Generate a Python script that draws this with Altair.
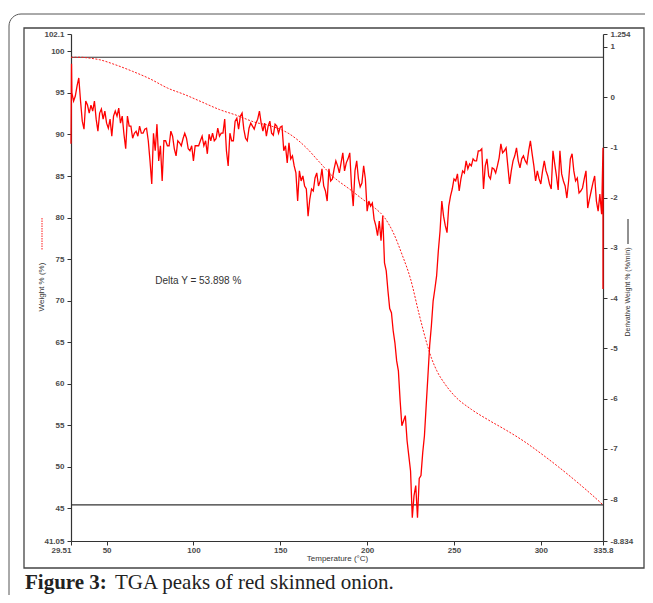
import altair as alt
import pandas as pd

# ---------------- data ----------------
x_ticks = [29.51, 50, 100, 150, 200, 250, 300, 335.8]
w_ticks = [41.05, 45, 50, 55, 60, 65, 70, 75, 80, 85, 90, 95, 100, 102.1]
d_ticks = [-8.834, -8, -7, -6, -5, -4, -3, -2, -1, 0, 1, 1.254]

# Weight % curve (dotted)
weight_T = [29.51, 35, 40, 46, 55, 65, 75, 85, 95, 105, 115, 125, 135, 145,
            155, 165, 172, 180, 190, 200, 205, 210, 215, 220, 225, 230, 235,
            237, 240, 245, 250, 260, 270, 280, 290, 300, 310, 320, 330, 335.8]
weight_pct = [99.3, 99.3, 99.2, 99.0, 98.4, 97.6, 96.7, 95.6, 94.8, 93.9,
              93.0, 92.3, 91.5, 91.0, 90.1, 88.4, 86.8, 85.0, 83.4, 81.8,
              81.05, 80.0, 78.2, 75.6, 72.6, 68.3, 64.4, 63.1, 61.6, 59.9,
              58.6, 56.9, 55.6, 54.4, 53.1, 51.6, 50.0, 48.3, 46.5, 45.4]

# Derivative weight curve (solid), one reading per degree from 30 to 335
deriv_T = [29.51, 29.8] + list(range(30, 336)) + [335.8, 335.8]
deriv_vals = [-0.93, 0.66] + [
    0.08, -0.08, 0.02, 0.22, 0.38, -0.08, -0.48, -0.64, -0.08, -0.16,
    -0.32, -0.16, -0.28, -0.08, -0.44, -0.68, -0.32, -0.24, -0.44, -0.28,
    -0.52, -0.62, -0.44, -0.78, -0.38, -0.28, -0.38, -0.22, -0.52, -0.38,
    -0.74, -1.03, -0.38, -0.58, -0.58, -0.82, -0.72, -0.68, -0.78, -0.58,
    -0.72, -0.72, -0.64, -0.62, -0.87, -1.27, -1.73, -0.72, -1.07, -0.54,
    -1.27, -0.97, -1.67, -0.87, -0.87, -0.97, -0.97, -0.68, -0.78, -1.03,
    -1.17, -0.87, -0.91, -0.97, -0.83, -0.72, -0.82, -1.03, -1.07, -0.97,
    -1.27, -0.97, -0.97, -0.97, -0.87, -0.78, -0.97, -0.87, -1.13, -0.74,
    -0.87, -0.72, -0.87, -0.83, -0.62, -0.78, -0.72, -0.72, -0.44, -1.07,
    -1.37, -0.72, -0.87, -0.87, -0.48, -0.42, -0.64, -0.38, -0.32, -0.64,
    -0.82, -0.87, -0.62, -0.52, -0.58, -0.64, -0.52, -0.44, -0.28, -0.52,
    -0.68, -0.52, -0.78, -0.58, -0.48, -0.72, -0.76, -0.54, -0.58, -0.72,
    -0.60, -0.58, -1.07, -0.97, -1.31, -0.91, -1.23, -1.17, -1.37, -1.51,
    -2.07, -1.47, -1.67, -1.57, -1.77, -1.83, -2.37, -2.03, -1.83, -1.87,
    -1.61, -1.51, -1.77, -1.67, -1.43, -1.77, -1.87, -2.07, -1.43, -1.67,
    -1.63, -1.43, -1.27, -1.37, -1.51, -1.31, -1.11, -1.47, -1.31, -1.23,
    -1.11, -1.77, -2.17, -1.47, -1.27, -1.63, -1.79, -1.71, -1.37, -1.63,
    -2.27, -2.07, -2.17, -2.11, -2.43, -2.56, -2.76, -2.47, -2.86, -2.37,
    -3.30, -3.46, -3.86, -4.21, -4.29, -4.65, -4.89, -5.25, -5.45, -6.04,
    -6.54, -6.44, -6.34, -6.84, -7.14, -7.44, -8.37, -7.93, -7.73, -8.37,
    -7.59, -7.53, -7.08, -6.74, -6.14, -5.55, -4.95, -4.55, -4.06, -3.82,
    -3.56, -3.06, -2.66, -2.07, -2.37, -2.56, -2.70, -2.17, -1.97, -1.83,
    -1.63, -1.67, -1.53, -1.87, -1.63, -1.47, -1.51, -1.27, -1.43, -1.33,
    -1.37, -1.23, -1.27, -1.27, -1.07, -1.07, -1.03, -1.83, -1.37, -1.23,
    -1.57, -1.63, -1.41, -1.43, -1.51, -1.37, -1.21, -0.93, -1.11, -1.07,
    -1.01, -1.37, -1.73, -1.47, -1.27, -1.17, -1.01, -1.27, -1.41, -1.23,
    -1.17, -1.27, -1.33, -1.07, -0.87, -1.13, -1.37, -1.67, -1.47, -1.63,
    -1.73, -1.47, -1.27, -1.47, -1.57, -1.73, -1.83, -1.07, -1.33, -1.57,
    -1.85, -1.07, -1.53, -1.67, -1.77, -2.01, -1.67, -1.23, -1.13, -1.47,
    -1.67, -1.61, -1.91, -1.87, -1.81, -1.63, -1.47, -2.21, -2.03, -1.87,
    -1.71, -1.57, -2.07, -2.27, -1.93, -2.33,
] + [-1.01, -3.82]

hline_levels = [99.3, 45.4]
delta_label = ["Delta Y = 53.898 %"]
delta_pos_T = [78]
delta_pos_w = [72.3]

# ---------------- tables ----------------
wdf = pd.DataFrame({"T": weight_T, "w": weight_pct})
ddf = pd.DataFrame({"T": deriv_T, "d": deriv_vals, "i": range(len(deriv_vals))})
hdf = pd.DataFrame({"w": hline_levels})
tdf = pd.DataFrame({"T": delta_pos_T, "w": delta_pos_w, "label": delta_label})
one = pd.DataFrame({"k": [0]})

FONT = "Liberation Sans"
W, H = 532, 507

x_scale = alt.Scale(domain=[29.51, 335.8], nice=False, zero=False)
w_scale = alt.Scale(domain=[41.05, 102.1], nice=False, zero=False)
d_scale = alt.Scale(domain=[-8.834, 1.254], nice=False, zero=False)

common_axis = dict(grid=False, labelFont=FONT, labelFontSize=8, labelColor="#4a4a4a",
                   labelFontWeight="bold",
                   domainColor="#333", domainWidth=1.2, tickColor="#333",
                   tickSize=4, labelOverlap=False, labelFlush=False,
                   labelBound=False, labelExpr="'' + datum.value")

x_axis = alt.Axis(values=x_ticks, title="Temperature (°C)", titleFont=FONT,
                  titleFontSize=8, titleFontWeight="normal", titleColor="#333",
                  titlePadding=0, labelPadding=1,
                  labelAlign={"condition": {"test": "datum.value < 30", "value": "right"},
                              "value": "center"},
                  **common_axis)
w_axis = alt.Axis(values=w_ticks, title=None, orient="left", labelPadding=3,
                  **common_axis)
d_axis = alt.Axis(values=d_ticks, title=None, orient="right", labelPadding=3,
                  **common_axis)

X = alt.X("T:Q", scale=x_scale, axis=x_axis)

weight_line = alt.Chart(wdf).mark_line(
    color="#ff1a1a", strokeWidth=1, strokeDash=[2, 1.5], interpolate="monotone"
).encode(x=X, y=alt.Y("w:Q", scale=w_scale, axis=w_axis))

hlines = alt.Chart(hdf).mark_rule(color="#333", strokeWidth=1.2).encode(
    y=alt.Y("w:Q", scale=w_scale, axis=w_axis), x=alt.value(0), x2=alt.value(W))

delta_text = alt.Chart(tdf).mark_text(
    font=FONT, fontSize=10, color="#333", align="left", baseline="middle"
).encode(x=X, y=alt.Y("w:Q", scale=w_scale, axis=w_axis), text="label:N")

# decorations: frames, axis titles, caption
inner_frame = alt.Chart(one).mark_rect(fillOpacity=0, stroke="#444", strokeWidth=1.3).encode(
    x=alt.value(-47), x2=alt.value(573), y=alt.value(-6), y2=alt.value(534))
outer_frame = alt.Chart(one).mark_rect(fillOpacity=0, stroke="#555", strokeWidth=1,
                                       cornerRadius=12).encode(
    x=alt.value(-62), x2=alt.value(640), y=alt.value(-20), y2=alt.value(640))

left_title = alt.Chart(one).mark_text(
    text="Weight % (%)", font=FONT, fontSize=8, color="#333", angle=270,
    align="center", baseline="middle").encode(x=alt.value(-29), y=alt.value(253))
left_symbol = alt.Chart(one).mark_rule(color="#ff1a1a", strokeWidth=1,
                                       strokeDash=[1.5, 1]).encode(
    x=alt.value(-29), y=alt.value(184), y2=alt.value(216))
right_title = alt.Chart(one).mark_text(
    text="Derivative Weight % (%/min)", font=FONT, fontSize=7, color="#333", angle=270,
    align="center", baseline="middle").encode(x=alt.value(557), y=alt.value(258))
right_symbol = alt.Chart(one).mark_rule(color="#222", strokeWidth=1).encode(
    x=alt.value(557), y=alt.value(185), y2=alt.value(210))

cap_bold = alt.Chart(one).mark_text(
    text="Figure 3:", font="Liberation Serif", fontSize=21, fontWeight="bold",
    color="#222", align="left", baseline="alphabetic").encode(
    x=alt.value(-46), y=alt.value(555))
cap_rest = alt.Chart(one).mark_text(
    text="TGA peaks of red skinned onion.", font="Liberation Serif", fontSize=21,
    color="#222", align="left", baseline="alphabetic").encode(
    x=alt.value(44), y=alt.value(555))

weight_layer = alt.layer(outer_frame, inner_frame, hlines, weight_line, delta_text,
                         left_title, left_symbol, right_title, right_symbol,
                         cap_bold, cap_rest)

deriv_line = alt.Chart(ddf).mark_line(color="#ff0000", strokeWidth=1.3).encode(
    x=X, y=alt.Y("d:Q", scale=d_scale, axis=d_axis), order="i:Q")

chart = alt.layer(weight_layer, deriv_line).resolve_scale(y="independent").properties(
    width=W, height=H,
    padding={"left": 63, "top": 26, "right": 42, "bottom": 54},
    autosize=alt.AutoSizeParams(type="none"),
).configure_view(stroke=None)

chart.save("out.html", embed_options={"renderer": "svg", "actions": False})
